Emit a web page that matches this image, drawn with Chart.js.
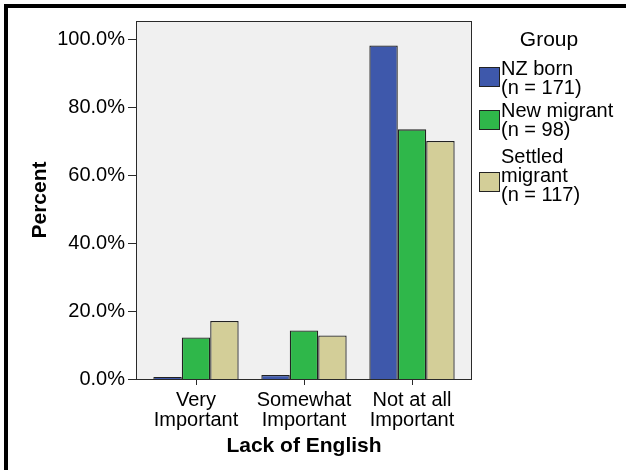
<!DOCTYPE html>
<html>
<head>
<meta charset="utf-8">
<script src="https://cdn.jsdelivr.net/npm/chart.js@4.4.1/dist/chart.umd.min.js"></script>
<style>
  body { margin: 0; background: #fff; }
  canvas { display: block; }
</style>
</head>
<body>
<canvas id="chart" width="626" height="470"></canvas>
<script>
// data
const categories = [['Very', 'Important'], ['Somewhat', 'Important'], ['Not at all', 'Important']];
const groupLines = [['NZ born', '(n = 171)'], ['New migrant', '(n = 98)'], ['Settled', 'migrant', '(n = 117)']];
const nzBorn = [0.6, 1.2, 98.2];
const newMigrant = [12.2, 14.3, 73.5];
const settledMigrant = [17.1, 12.8, 70.1];
const yTicks = [0, 20, 40, 60, 80, 100];
const groupColors = ['#3E58AB', '#2FB74A', '#D3CE98'];

const FONT = '"Liberation Sans", Arial, sans-serif';
Chart.defaults.font.family = FONT;
Chart.defaults.color = '#000';

// plot box is a bit wider than the category area
const framePad = 6;

const framePlugin = {
  id: 'frame',
  beforeDraw(chart) {
    const { ctx, chartArea: a } = chart;
    ctx.save();
    ctx.fillStyle = '#fff';
    ctx.fillRect(0, 0, chart.width, chart.height);
    ctx.fillStyle = '#F0F0F0';
    ctx.fillRect(a.left - framePad, a.top, a.right - a.left + framePad * 2, a.bottom - a.top);
    ctx.restore();
  },
  afterDatasetsDraw(chart) {
    const { ctx, chartArea: a } = chart;
    const left = a.left - framePad;
    ctx.save();
    ctx.strokeStyle = '#2a2a2a';
    ctx.lineWidth = 1;
    ctx.strokeRect(left + 0.5, a.top + 0.5, a.right - a.left + framePad * 2 - 1, a.bottom - a.top);
    // y tick marks
    const y = chart.scales.y;
    ctx.beginPath();
    y.ticks.forEach(t => {
      const py = Math.round(y.getPixelForValue(t.value)) + 0.5;
      ctx.moveTo(left - 8, py);
      ctx.lineTo(left, py);
    });
    ctx.stroke();
    ctx.restore();
  },
  afterDraw(chart) {
    const ctx = chart.ctx;
    ctx.save();
    // outer frame, top and left only
    ctx.fillStyle = '#000';
    ctx.fillRect(4, 4, chart.width - 4, 4);
    ctx.fillRect(4, 4, 4, chart.height - 4);

    // legend
    ctx.textBaseline = 'middle';
    ctx.textAlign = 'center';
    ctx.font = '21px ' + FONT;
    ctx.fillText('Group', 549, 40);
    ctx.textAlign = 'left';
    ctx.font = '20px ' + FONT;
    const firstLine = [69, 111.5, 157.5];
    const boxMid = [77, 120, 182];
    chart.data.datasets.forEach((ds, i) => {
      groupLines[i].forEach((t, j) => {
        ctx.fillStyle = '#000';
        ctx.fillText(t, 501, firstLine[i] + j * 19);
      });
      ctx.fillStyle = ds.backgroundColor;
      ctx.fillRect(479, boxMid[i] - 10, 21, 20);
      ctx.strokeStyle = '#222';
      ctx.strokeRect(479.5, boxMid[i] - 9.5, 20, 19);
    });
    ctx.restore();
  }
};

new Chart(document.getElementById('chart'), {
  type: 'bar',
  data: {
    labels: categories,
    datasets: [
      { label: groupLines[0].join(' '), data: nzBorn, backgroundColor: groupColors[0] },
      { label: groupLines[1].join(' '), data: newMigrant, backgroundColor: groupColors[1] },
      { label: groupLines[2].join(' '), data: settledMigrant, backgroundColor: groupColors[2] }
    ]
  },
  options: {
    responsive: false,
    animation: false,
    layout: { padding: { top: 20, right: 160, left: 0, bottom: 0 } },
    datasets: {
      bar: {
        borderColor: '#222',
        borderWidth: 1.3,
        borderSkipped: 'bottom',
        categoryPercentage: 0.79,
        barPercentage: 1.0
      }
    },
    plugins: {
      legend: { display: false },
      tooltip: { enabled: false }
    },
    scales: {
      x: {
        afterFit: s => { s.height = 91; },
        border: { display: false },
        grid: { offset: false, drawOnChartArea: false, color: '#2a2a2a', tickLength: 6 },
        ticks: { font: { size: 20, lineHeight: 1 }, padding: 5, maxRotation: 0, autoSkip: false },
        title: {
          display: true,
          text: 'Lack of English',
          font: { size: 21, weight: 'bold', lineHeight: 1.2 },
          padding: { top: 0, bottom: 11 }
        }
      },
      y: {
        min: 0,
        max: 105.4,
        afterFit: s => { s.width = 142; },
        afterBuildTicks: s => { s.ticks = yTicks.map(v => ({ value: v })); },
        border: { display: false },
        grid: { display: false, drawTicks: true, tickLength: 8 },
        ticks: {
          font: { size: 20 },
          padding: 9,
          callback: v => v.toFixed(1) + '%'
        },
        title: {
          display: true,
          text: 'Percent',
          font: { size: 21, weight: 'bold', lineHeight: 1.2 },
          padding: { top: 28, bottom: 0 }
        }
      }
    }
  },
  plugins: [framePlugin]
});
</script>
</body>
</html>
